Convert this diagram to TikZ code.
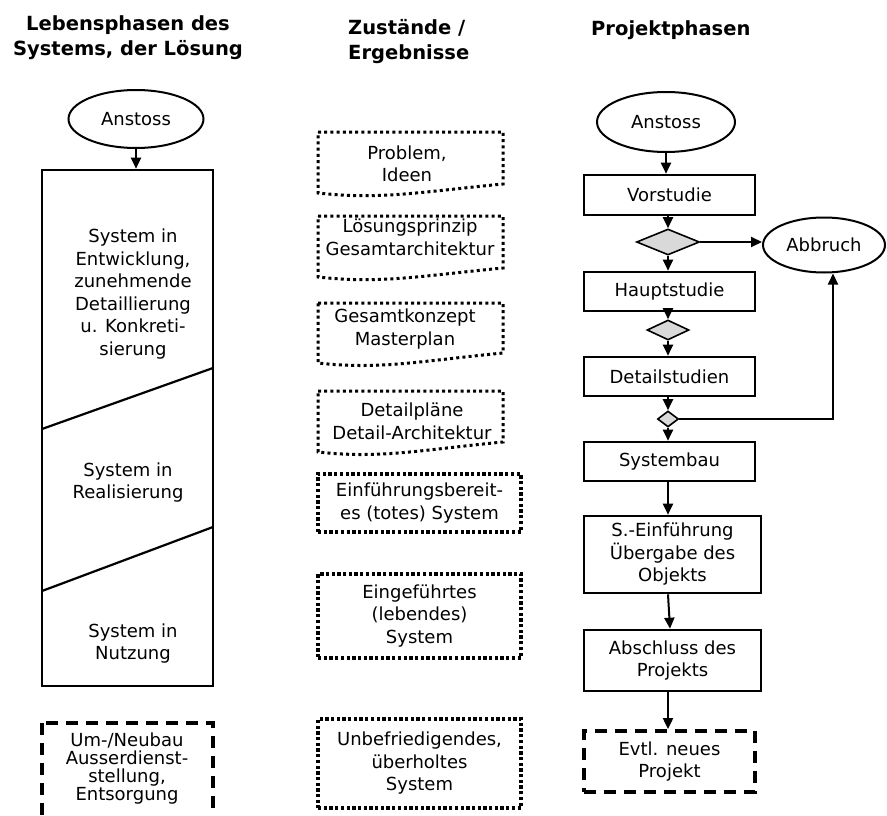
\documentclass[tikz,border=0pt]{standalone}
\usepackage{fontspec}
\setmainfont{DejaVu Sans}
\usetikzlibrary{shapes.geometric,arrows.meta}

\begin{document}
\begin{tikzpicture}[x=1pt,y=-1pt,
  body/.style={font=\fontsize{18}{22.5}\selectfont, align=center, inner sep=0pt},
  head/.style={font=\fontsize{19.5}{25}\selectfont\bfseries, inner sep=0pt},
  phasebox/.style={body, draw, line width=2.6pt, minimum height=40pt, minimum width=171pt},
  oval/.style={body, draw, ellipse, line width=2pt},
  gate/.style={draw, diamond, fill=black!15, line width=1.6pt, inner sep=0pt},
  arr/.style={line width=2pt, -{Triangle[length=11pt,width=10pt]}},
  dotline/.style={line width=3pt, dash pattern=on 3pt off 3.2pt},
  dotbox/.style={body, draw, line width=3.3pt, dash pattern=on 3.3pt off 2.4pt, minimum width=203pt},
  dashline/.style={line width=3.8pt, dash pattern=on 12pt off 8pt},
]
\useasboundingbox (0,0) rectangle (887,816);
\clip (0,0) rectangle (887,816);

% ---------- column headings ----------
\node[head, align=center] (h1) at (128,37.5) {Lebensphasen des\\Systems, der Lösung};
\node[head, align=left, anchor=west] (h2) at (348,42) {Zustände /\\Ergebnisse};
\node[head, anchor=west] (h3) at (591,30) {Projektphasen};

% ---------- life phases of the system ----------
\node[oval, minimum width=135pt, minimum height=58pt] (a1) at (136,119) {Anstoss};
\node[draw, line width=2.6pt, minimum width=171pt, minimum height=516pt, inner sep=0pt] (life) at (127.5,428) {};
\draw[line width=2.2pt] (42,429) -- (213,368);
\draw[line width=2.2pt] (42,591) -- (213,527);
\draw[arr] (a1.south) -- (a1.south |- life.north);

\node[body] (l1) at (133,294) {System in\\Entwicklung,\\zunehmende\\Detaillierung\\u. Konkreti-\\sierung};
\node[body] (l2) at (128,482.5) {System in\\Realisierung};
\node[body] (l3) at (133,643.5) {System in\\Nutzung};

\draw[dashline] (42,723) rectangle (213,840);
\node[body, font=\fontsize{18}{17.7}\selectfont] (l4) at (127,768.5) {Um-/Neubau\\Ausserdienst-\\stellung,\\Entsorgung};

% ---------- states / results (document shapes) ----------
\draw[dotline] (318,132) -- (503,132) -- (503,184) .. controls (420,192) and (380,200) .. (318,193) -- cycle;
\node[body] (r1) at (407,164) {Problem,\\Ideen};

\draw[dotline] (318,216) -- (503,216) -- (503,268) .. controls (420,276) and (380,284) .. (318,277) -- cycle;
\node[body] (r2) at (410,237.5) {Lösungsprinzip\\Gesamtarchitektur};

\draw[dotline] (318,303) -- (503,303) -- (503,353) .. controls (420,361) and (380,370) .. (318,363) -- cycle;
\node[body] (r3) at (405,329) {Gesamtkonzept\\Masterplan};

\draw[dotline] (318,391) -- (503,391) -- (503,442) .. controls (420,450) and (380,459) .. (318,452) -- cycle;
\node[body] (r4) at (412,421.5) {Detailpläne\\Detail-Architektur};

\node[dotbox, minimum height=58pt] (r5) at (419.5,503) {Einführungsbereit-\\es (totes) System};
\node[dotbox, minimum height=84pt] (r6) at (419.5,616) {Eingeführtes\\(lebendes)\\System};
\node[dotbox, minimum height=89pt] (r7) at (419.5,763.5) {Unbefriedigendes,\\überholtes\\System};

% ---------- project phases ----------
\node[oval, minimum width=138pt, minimum height=60pt] (a2) at (666,122) {Anstoss};
\node[phasebox] (vor) at (669.5,195) {Vorstudie};
\node[gate, minimum width=63pt, minimum height=26pt] (d1) at (668,242) {};
\node[oval, minimum width=122pt, minimum height=55pt] (abb) at (824,245) {Abbruch};
\node[phasebox, minimum height=39pt] (haupt) at (669.5,291.5) {Hauptstudie};
\node[gate, minimum width=42pt, minimum height=20pt] (d2) at (668,330) {};
\node[phasebox, minimum height=39pt] (det) at (669.5,376.5) {Detailstudien};
\node[gate, minimum width=21pt, minimum height=16pt] (d3) at (668,419) {};
\node[phasebox, minimum height=39pt] (sys) at (669.5,461.5) {Systembau};
\node[phasebox, minimum width=177pt, minimum height=77pt] (einf) at (672.5,554.5) {S.-Einführung\\Übergabe des\\Objekts};
\node[phasebox, minimum width=177pt, minimum height=61pt] (absch) at (672.5,660.5) {Abschluss des\\Projekts};
\node[body, draw, dashline, minimum width=171pt, minimum height=61pt] (evtl) at (669.5,761.5) {Evtl. neues\\Projekt};

\draw[arr] (a2.south) -- (a2.south |- vor.north);
\draw[arr] (vor.south -| d1.north) -- (d1.north);
\draw[arr] (d1.east) -- (d1.east -| abb.west);
\draw[arr] (d1.south) -- (d1.south |- haupt.north);
\draw[arr] (haupt.south -| d2.north) -- (d2.north);
\draw[arr] (d2.south) -- (d2.south |- det.north);
\draw[arr] (det.south -| d3.north) -- (d3.north);
\draw[arr] (d3.south) -- (d3.south |- sys.north);
\draw[arr] (d3.east) -| ([xshift=9pt]abb.south);
\draw[arr] (sys.south -| d3.south) -- (d3.south |- einf.north);
\draw[arr] (einf.south -| d3.south) -- ([xshift=2pt]d3.south |- absch.north);
\draw[arr] (absch.south -| d3.south) -- (d3.south |- evtl.north);
\end{tikzpicture}
\end{document}
